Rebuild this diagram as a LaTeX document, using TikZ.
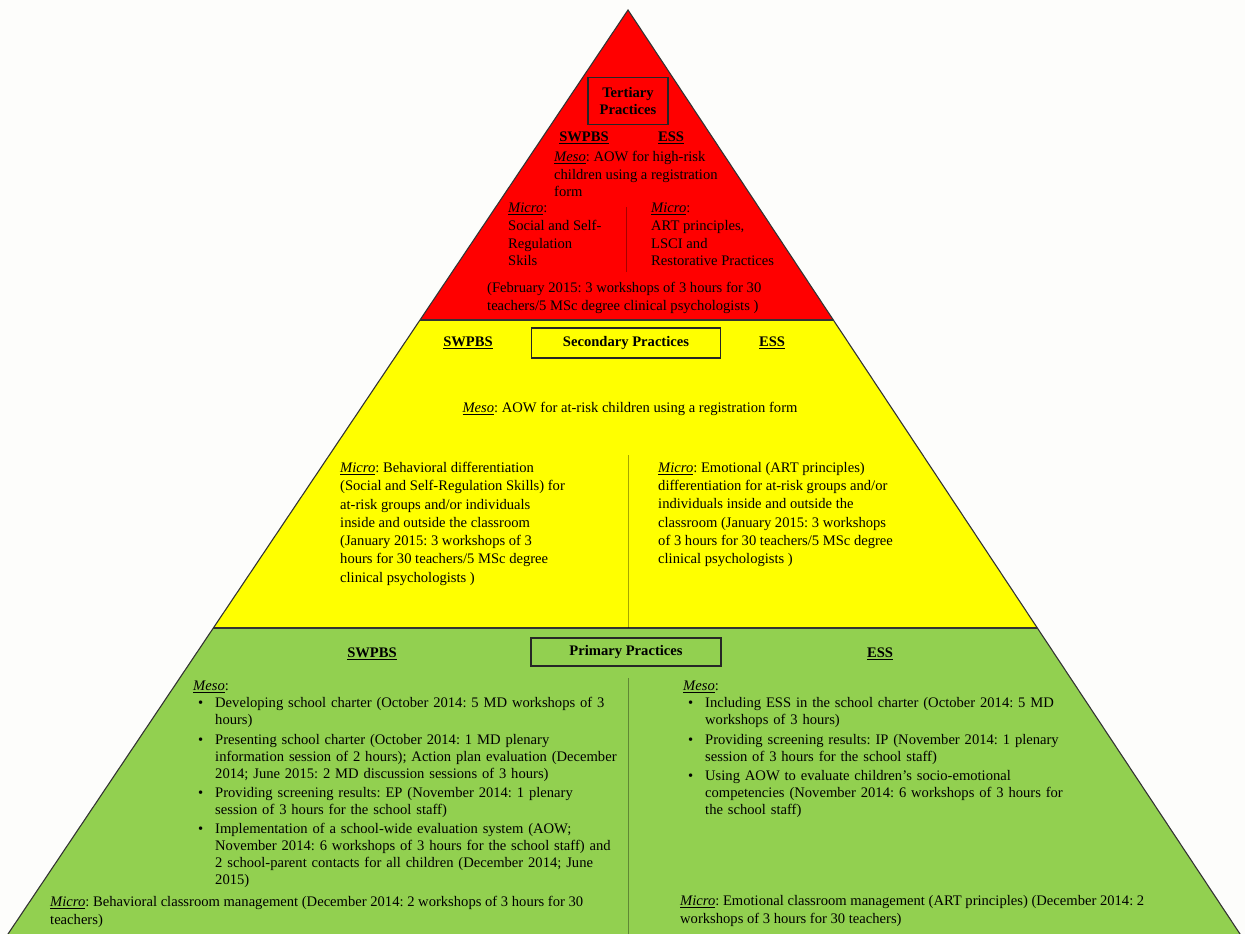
\documentclass[tikz,border=0pt]{standalone}
\usepackage{fontspec}
\setmainfont{Liberation Serif}
\definecolor{bgc}{HTML}{FDFDFB}
\definecolor{tred}{HTML}{FF0000}
\definecolor{tyel}{HTML}{FFFF00}
\definecolor{tgrn}{HTML}{92D050}
\newcommand\brk{\hfil\break}
\newcommand\bitemf[1]{\par\hangindent=22pt\hangafter=1\noindent\makebox[22pt][l]{\hspace{5pt}\textbullet}#1\par}
\newcommand\bitem[1]{\vspace{2.3pt}\bitemf{#1}}
\newcommand\lbl[1]{\underline{\textit{#1}}}
\newcommand\hd[1]{\textbf{\underline{#1}}}
\tikzset{
  txt/.style={anchor=north west, inner sep=0pt, align=left, font=\frenchspacing\fontsize{14.6}{17.7}\selectfont},
  listtxt/.style={txt, font=\frenchspacing\fontsize{14.6}{17}\selectfont},
  headtxt/.style={inner sep=0pt, font=\frenchspacing\fontsize{14.6}{17}\selectfont},
  titlebox/.style={draw=black!85, line width=1.3pt, inner sep=0pt, align=center, font=\bfseries\fontsize{14.6}{17.5}\selectfont},
  divider/.style={draw=black, opacity=0.35, line width=0.9pt},
  edge/.style={draw=black!80, line width=1.1pt}
}
\begin{document}
\begin{tikzpicture}[x=1pt,y=-1pt]
\useasboundingbox (0,0) rectangle (1245,934);
\fill[bgc] (0,0) rectangle (1245,934);
% pyramid levels
\coordinate (A) at (628,10);
\coordinate (L1) at (420,320);
\coordinate (R1) at (833.3,320);
\coordinate (L2) at (213.3,628);
\coordinate (R2) at (1037.3,628);
\coordinate (BL) at (4,940);
\coordinate (BR) at (1244,940);
\begin{scope}
\clip (0,0) rectangle (1245,934);
\fill[tred] (A) -- (R1) -- (L1) -- cycle;
\fill[tyel] (L1) -- (R1) -- (R2) -- (L2) -- cycle;
\fill[tgrn] (L2) -- (R2) -- (BR) -- (BL) -- cycle;
\draw[edge] (BL) -- (A) -- (BR);
\draw[edge] (L1) -- (R1);
\draw[edge] (L2) -- (R2);
\end{scope}

% ---------- Tertiary ----------
\node[titlebox, minimum width=80pt, minimum height=47pt] (tbox) at (628,101) {Tertiary\\Practices};
\node[headtxt] (tsw) at (584,138) {\hd{SWPBS}};
\node[headtxt] (tess) at (671,138) {\hd{ESS}};
\node[txt] (tmeso) at (554,151) {\lbl{Meso}: AOW for high-risk\\children using a registration\\form};
\node[txt] (tmicl) at (508,203) {\lbl{Micro}:\\Social and Self-\\Regulation\\Skils};
\node[txt] (tmicr) at (651,203) {\lbl{Micro}:\\ART principles,\\LSCI and\\Restorative Practices};
\coordinate (td1) at (626,207);
\coordinate (td2) at (626,272);
\draw[divider] (td1) -- (td2);
\node[txt] (tfeb) at (487,282) {(February 2015: 3 workshops of 3 hours for 30\\teachers/5 MSc degree clinical psychologists )};

% ---------- Secondary ----------
\node[headtxt] (ssw) at (468,343) {\hd{SWPBS}};
\node[titlebox, minimum width=189pt, minimum height=30pt] (sbox) at (626,343) {Secondary Practices};
\node[headtxt] (sess) at (772,343) {\hd{ESS}};
\node[headtxt] (smeso) at (630,409) {\lbl{Meso}: AOW for at-risk children using a registration form};
\coordinate (sd1) at (628,455);
\coordinate (sd2) at (628,628);
\draw[divider] (sd1) -- (sd2);
\node[txt, font=\frenchspacing\fontsize{14.6}{18.3}\selectfont] (smicl) at (340,462) {\lbl{Micro}: Behavioral differentiation\\(Social and Self-Regulation Skills) for\\at-risk groups and/or individuals\\inside and outside the classroom\\(January 2015: 3 workshops of 3\\hours for 30 teachers/5 MSc degree\\clinical psychologists )};
\node[txt, font=\frenchspacing\fontsize{14.6}{18.3}\selectfont] (smicr) at (658,462) {\lbl{Micro}: Emotional (ART principles)\\differentiation for at-risk groups and/or\\individuals inside and outside the\\classroom (January 2015: 3 workshops\\of 3 hours for 30 teachers/5 MSc degree\\clinical psychologists )};

% ---------- Primary ----------
\node[headtxt] (psw) at (372,654) {\hd{SWPBS}};
\node[titlebox, minimum width=190pt, minimum height=28pt] (pbox) at (626,652) {Primary Practices};
\node[headtxt] (pess) at (880,654) {\hd{ESS}};
\coordinate (pd1) at (628,678);
\coordinate (pd2) at (628,934);
\draw[divider] (pd1) -- (pd2);
\node[listtxt, text width=440pt] (pmesol) at (193,681) {\lbl{Meso}:
\bitemf{Developing school charter (October 2014: 5 MD workshops of 3\brk hours)}
\bitem{Presenting school charter (October 2014: 1 MD plenary\brk information session of 2 hours); Action plan evaluation (December\brk 2014; June 2015: 2 MD discussion sessions of 3 hours)}
\bitem{Providing screening results: EP (November 2014: 1 plenary\brk session of 3 hours for the school staff)}
\bitem{Implementation of a school-wide evaluation system (AOW;\brk November 2014: 6 workshops of 3 hours for the school staff) and\brk 2 school-parent contacts for all children (December 2014; June\brk 2015)}};
\node[txt] (pmicl) at (50,896) {\lbl{Micro}: Behavioral classroom management (December 2014: 2 workshops of 3 hours for 30\\teachers)};
\node[listtxt, text width=420pt] (pmesor) at (683,681) {\lbl{Meso}:
\bitemf{Including ESS in the school charter (October 2014: 5 MD\brk workshops of 3 hours)}
\bitem{Providing screening results: IP (November 2014: 1 plenary\brk session of 3 hours for the school staff)}
\bitem{Using AOW to evaluate children's socio-emotional\brk competencies (November 2014: 6 workshops of 3 hours for\brk the school staff)}};
\node[txt] (pmicr) at (680,895) {\lbl{Micro}: Emotional classroom management (ART principles) (December 2014: 2\\workshops of 3 hours for 30 teachers)};
\end{tikzpicture}
\end{document}
